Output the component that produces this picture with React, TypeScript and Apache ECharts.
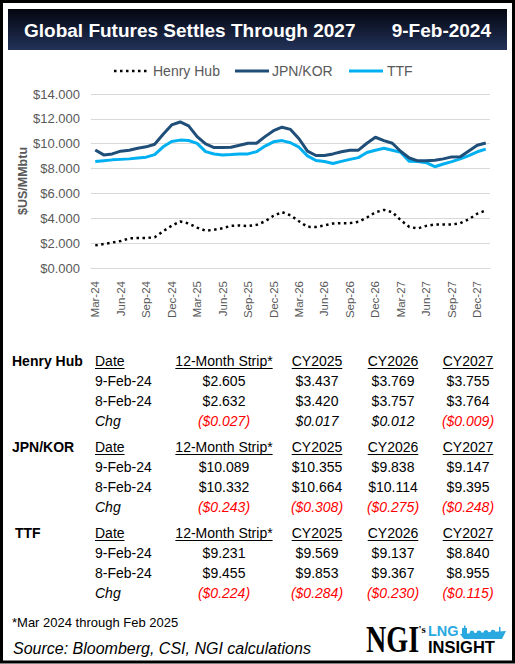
import React, { useEffect, useRef } from "react";
import * as echarts from "echarts";

// ---------------- data ----------------
const months = [
  "Mar-24","Apr-24","May-24","Jun-24","Jul-24","Aug-24","Sep-24","Oct-24","Nov-24","Dec-24",
  "Jan-25","Feb-25","Mar-25","Apr-25","May-25","Jun-25","Jul-25","Aug-25","Sep-25","Oct-25","Nov-25","Dec-25",
  "Jan-26","Feb-26","Mar-26","Apr-26","May-26","Jun-26","Jul-26","Aug-26","Sep-26","Oct-26","Nov-26","Dec-26",
  "Jan-27","Feb-27","Mar-27","Apr-27","May-27","Jun-27","Jul-27","Aug-27","Sep-27","Oct-27","Nov-27","Dec-27",
  "Jan-28",
];

const henryHub = [
  1.82, 1.93, 2.05, 2.17, 2.38, 2.41, 2.41, 2.47, 2.96, 3.40,
  3.74, 3.58, 3.25, 3.00, 3.08, 3.20, 3.39, 3.42, 3.38, 3.47, 3.75, 4.20,
  4.50, 4.24, 3.76, 3.31, 3.30, 3.43, 3.58, 3.61, 3.61, 3.72, 4.06, 4.48,
  4.68, 4.49, 3.84, 3.30, 3.18, 3.39, 3.50, 3.50, 3.50, 3.60, 3.92, 4.37,
  4.63,
];

const jpnKor = [
  9.50, 9.10, 9.18, 9.40, 9.48, 9.64, 9.75, 9.96, 10.76, 11.51,
  11.75, 11.43, 10.57, 9.98, 9.69, 9.69, 9.72, 9.88, 10.04, 10.04, 10.57, 11.05,
  11.33, 11.15, 10.40, 9.40, 9.05, 9.05, 9.18, 9.35, 9.48, 9.48, 10.04, 10.52,
  10.25, 10.04, 9.37, 8.85, 8.62, 8.62, 8.67, 8.78, 8.94, 8.96, 9.42, 9.88,
  10.06,
];

const ttf = [
  8.56, 8.63, 8.70, 8.74, 8.78, 8.85, 8.92, 9.12, 9.75, 10.18,
  10.29, 10.26, 10.03, 9.36, 9.17, 9.10, 9.13, 9.18, 9.18, 9.36, 9.81, 10.15,
  10.25, 10.08, 9.72, 9.02, 8.65, 8.57, 8.41, 8.58, 8.74, 8.88, 9.29, 9.47,
  9.63, 9.48, 9.30, 8.58, 8.56, 8.47, 8.15, 8.37, 8.56, 8.78, 9.05, 9.35,
  9.56,
];

const seriesNames = ["Henry Hub", "JPN/KOR", "TTF"];
const columnHeaders = ["12-Month Strip*", "CY2025", "CY2026", "CY2027"];
const rowDates = ["9-Feb-24", "8-Feb-24"];
const chgLabel = "Chg";
const dateHeader = "Date";

const henryLatest = [2.605, 3.437, 3.769, 3.755];
const henryPrior = [2.632, 3.42, 3.757, 3.764];
const henryChg = [-0.027, 0.017, 0.012, -0.009];

const jpnLatest = [10.089, 10.355, 9.838, 9.147];
const jpnPrior = [10.332, 10.664, 10.114, 9.395];
const jpnChg = [-0.243, -0.308, -0.275, -0.248];

const ttfLatest = [9.231, 9.569, 9.137, 8.84];
const ttfPrior = [9.455, 9.853, 9.367, 8.955];
const ttfChg = [-0.224, -0.284, -0.23, -0.115];

const titleText = "Global Futures Settles Through 2027";
const dateText = "9-Feb-2024";
const footnote = "*Mar 2024 through Feb 2025";
const sourceText = "Source: Bloomberg, CSI, NGI calculations";

// ---------------- styles ----------------
const FONT = '"Liberation Sans", Arial, Helvetica, sans-serif';
const SERIF = '"Liberation Serif", "Times New Roman", serif';
const GRAY = "#595959";
const RED = "#ff0000";
const COLORS = ["#000000", "#1f4e79", "#00b0f0"];
const LINE_TYPES: any[] = [[2.5, 3.5], "solid", "solid"];
const LINE_WIDTHS = [2.5, 3, 3];

function measure(text: string, font: string): number {
  const c = document.createElement("canvas").getContext("2d");
  if (!c) return text.length * 7;
  c.font = font;
  return c.measureText(text).width;
}

const fmt = (v: number) => "$" + v.toFixed(3);
const fmtChg = (v: number) => (v < 0 ? "($" + Math.abs(v).toFixed(3) + ")" : "$" + v.toFixed(3));

function buildLegend(): any[] {
  const els: any[] = [];
  const items = [
    { lineX: 114, textX: 153 },
    { lineX: 235, textX: 272 },
    { lineX: 349, textX: 387 },
  ];
  const y = 71;
  items.forEach((it, i) => {
    els.push({
      type: "line",
      silent: true,
      shape: { x1: it.lineX, y1: y, x2: it.lineX + 34, y2: y },
      style: {
        stroke: COLORS[i],
        lineWidth: LINE_WIDTHS[i],
        lineDash: Array.isArray(LINE_TYPES[i]) ? LINE_TYPES[i] : null,
      },
    });
    els.push({
      type: "text",
      x: it.textX,
      y,
      silent: true,
      style: { text: seriesNames[i], fontSize: 14, fontFamily: FONT, fill: GRAY, align: "left", verticalAlign: "middle" },
    });
  });
  return els;
}

function buildTables(): any[] {
  const els: any[] = [];
  const blocks = [
    { name: seriesNames[0], nameX: 12, top: 361, latest: henryLatest, prior: henryPrior, chg: henryChg },
    { name: seriesNames[1], nameX: 12, top: 447, latest: jpnLatest, prior: jpnPrior, chg: jpnChg },
    { name: seriesNames[2], nameX: 15, top: 533, latest: ttfLatest, prior: ttfPrior, chg: ttfChg },
  ];
  const colX = [224, 317, 393, 468];
  const dateX = 95;
  const fs = 14;
  const font = `${fs}px ${FONT}`;
  const txt = (text: string, x: number, y: number, extra: any = {}) => ({
    type: "text",
    x,
    y,
    silent: true,
    style: {
      text,
      fontSize: fs,
      fontFamily: FONT,
      fill: "#000",
      align: "left",
      verticalAlign: "middle",
      ...extra,
    },
  });
  const underline = (x1: number, x2: number, y: number) => ({
    type: "line",
    silent: true,
    shape: { x1, y1: y, x2, y2: y },
    style: { stroke: "#000", lineWidth: 1 },
  });
  blocks.forEach((b) => {
    const y0 = b.top;
    els.push(txt(b.name, b.nameX, y0, { fontWeight: "bold" }));
    els.push(txt(dateHeader, dateX, y0));
    const dw = measure(dateHeader, font);
    els.push(underline(dateX, dateX + dw, y0 + 7.5));
    columnHeaders.forEach((h, i) => {
      els.push(txt(h, colX[i], y0, { align: "center" }));
      const w = measure(h, font);
      els.push(underline(colX[i] - w / 2, colX[i] + w / 2, y0 + 7.5));
    });
    els.push(txt(rowDates[0], dateX, y0 + 20));
    els.push(txt(rowDates[1], dateX, y0 + 40));
    els.push(txt(chgLabel, dateX, y0 + 60, { fontStyle: "italic" }));
    b.latest.forEach((v, i) => els.push(txt(fmt(v), colX[i], y0 + 20, { align: "center" })));
    b.prior.forEach((v, i) => els.push(txt(fmt(v), colX[i], y0 + 40, { align: "center" })));
    b.chg.forEach((v, i) =>
      els.push(
        txt(fmtChg(v), colX[i], y0 + 60, {
          align: "center",
          fontStyle: "italic",
          fill: v < 0 ? RED : "#000",
        })
      )
    );
  });
  return els;
}

function buildLogo(): any[] {
  const blue = "#29a9e0";
  return [
    {
      type: "text",
      x: 366,
      y: 639,
      scaleX: 0.74,
      silent: true,
      style: {
        text: "NGI",
        fontFamily: SERIF,
        fontWeight: "bold",
        fontSize: 38,
        fill: "#000",
        align: "left",
        verticalAlign: "middle",
      },
    },
    {
      type: "text",
      x: 418.5,
      y: 629,
      silent: true,
      style: { text: "'s", fontFamily: SERIF, fontWeight: "bold", fontSize: 11, fill: "#000", align: "left", verticalAlign: "middle" },
    },
    {
      type: "text",
      x: 428,
      y: 631,
      silent: true,
      style: { text: "LNG", fontFamily: FONT, fontWeight: "bold", fontSize: 14.5, fill: blue, align: "left", verticalAlign: "middle" },
    },
    {
      type: "text",
      x: 428,
      y: 647,
      silent: true,
      style: { text: "INSIGHT", fontFamily: FONT, fontWeight: "bold", fontSize: 16.5, fill: "#000", align: "left", verticalAlign: "middle" },
    },
    {
      type: "polygon",
      silent: true,
      shape: { points: [[460, 634], [506, 631], [502, 639], [464, 639]] },
      style: { fill: blue },
    },
    { type: "rect", silent: true, shape: { x: 462, y: 628, width: 5, height: 6 }, style: { fill: blue } },
    { type: "rect", silent: true, shape: { x: 464, y: 625.5, width: 1.5, height: 3 }, style: { fill: blue } },
    { type: "circle", silent: true, shape: { cx: 472, cy: 633, r: 2.4 }, style: { fill: blue } },
    { type: "circle", silent: true, shape: { cx: 479, cy: 632.8, r: 2.4 }, style: { fill: blue } },
    { type: "circle", silent: true, shape: { cx: 486, cy: 632.5, r: 2.4 }, style: { fill: blue } },
    { type: "circle", silent: true, shape: { cx: 493, cy: 632.2, r: 2.4 }, style: { fill: blue } },
    { type: "rect", silent: true, shape: { x: 499, y: 627, width: 1.5, height: 5 }, style: { fill: blue } },
  ];
}

export default function App() {
  const ref = useRef<HTMLDivElement>(null);
  useEffect(() => {
    if (!ref.current) return;
    const chart = echarts.init(ref.current, undefined, { renderer: "svg" });
    const graphic: any[] = [
      // outer black frame
      {
        type: "rect",
        silent: true,
        z: 100,
        shape: { x: 1.5, y: 1.5, width: 512, height: 660.5 },
        style: { fill: "none", stroke: "#000", lineWidth: 3 },
      },
      // header band
      {
        type: "rect",
        silent: true,
        shape: { x: 8, y: 9, width: 499, height: 41 },
        style: {
          fill: new echarts.graphic.LinearGradient(0, 0, 0, 1, [
            { offset: 0, color: "#03060f" },
            { offset: 1, color: "#233259" },
          ]),
        },
      },
      {
        type: "text",
        x: 24,
        y: 30,
        silent: true,
        style: { text: titleText, fontFamily: FONT, fontWeight: "bold", fontSize: 19, fill: "#fff", align: "left", verticalAlign: "middle" },
      },
      {
        type: "text",
        x: 491,
        y: 30,
        silent: true,
        style: { text: dateText, fontFamily: FONT, fontWeight: "bold", fontSize: 19, fill: "#fff", align: "right", verticalAlign: "middle" },
      },
      ...buildLegend(),
      ...buildTables(),
      {
        type: "text",
        x: 12,
        y: 622,
        silent: true,
        style: { text: footnote, fontFamily: FONT, fontSize: 13, fill: "#000", align: "left", verticalAlign: "middle" },
      },
      {
        type: "text",
        x: 13,
        y: 648,
        silent: true,
        style: { text: sourceText, fontFamily: FONT, fontStyle: "italic", fontSize: 16, fill: "#000", align: "left", verticalAlign: "middle" },
      },
      ...buildLogo(),
    ];

    chart.setOption({
      animation: false,
      backgroundColor: "#ffffff",
      textStyle: { fontFamily: FONT },
      grid: { left: 91, right: 25, top: 94, height: 174, containLabel: false },
      xAxis: {
        type: "category",
        data: months,
        boundaryGap: true,
        axisLine: { lineStyle: { color: "#d9d9d9", width: 1 } },
        axisTick: { show: false },
        axisLabel: { rotate: 90, interval: 2, margin: 13, fontSize: 11.5, color: GRAY, fontFamily: FONT },
        splitLine: { show: false },
      },
      yAxis: {
        type: "value",
        min: 0,
        max: 14,
        interval: 2,
        name: "$US/MMbtu",
        nameLocation: "middle",
        nameGap: 62,
        nameMoveOverlap: false,
        nameTextStyle: { fontSize: 12.5, fontWeight: "bold", color: GRAY, fontFamily: FONT },
        axisLine: { show: false },
        axisTick: { show: false },
        axisLabel: { formatter: (v: number) => "$" + v.toFixed(3), fontSize: 13, color: GRAY, margin: 11, fontFamily: FONT },
        splitLine: { lineStyle: { color: "#d9d9d9", width: 1 } },
      },
      series: seriesNames.map((name, i) => ({
        name,
        type: "line",
        data: [henryHub, jpnKor, ttf][i],
        symbol: "none",
        lineStyle: { color: COLORS[i], width: LINE_WIDTHS[i], type: LINE_TYPES[i] },
        itemStyle: { color: COLORS[i] },
        z: 3 - i,
      })),
      graphic,
    });
    return () => chart.dispose();
  }, []);

  return (
    <div
      ref={ref}
      style={{ position: "absolute", left: 0, top: 0, width: 515, height: 664, background: "#fff" }}
    />
  );
}
